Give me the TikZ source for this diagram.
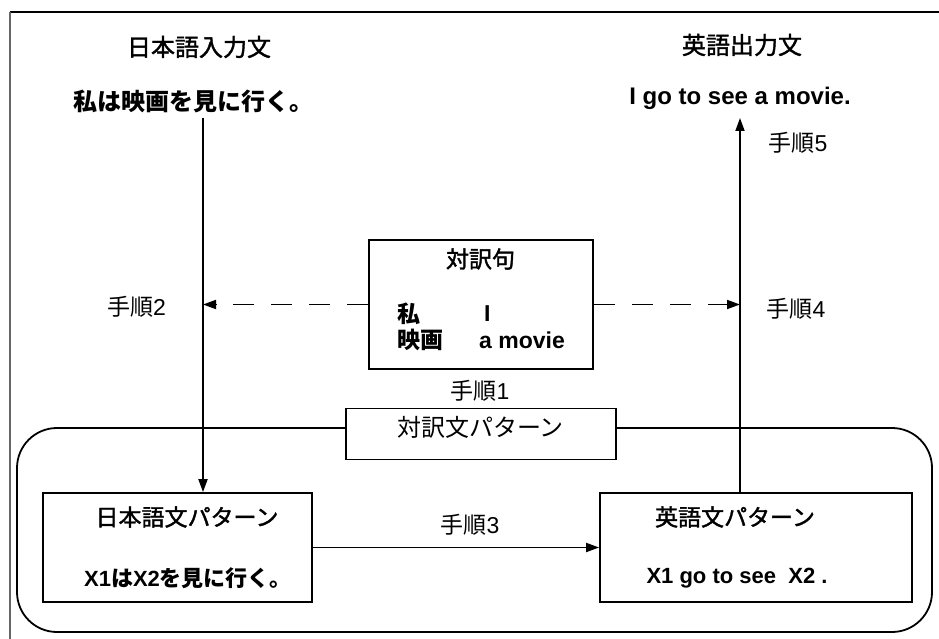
\documentclass[tikz,border=0pt]{standalone}
\usepackage{fontspec}
\setmainfont{Noto Sans CJK JP}
\newfontfamily\jpsemi[FakeBold=1.6]{Noto Sans CJK JP}
\newfontfamily\lat{Liberation Sans}
\usetikzlibrary{arrows.meta}
\tikzset{
  box/.style={draw, line width=1.8pt, fill=white, inner sep=0pt},
  conn/.style={line width=1.8pt, -{Triangle[length=13pt,width=9pt]}},
  dconn/.style={conn, dash pattern=on 21pt off 17pt},
  lbl/.style={font=\fontsize{23}{26}\selectfont, inner sep=0pt},
  head/.style={font=\fontsize{24}{27}\selectfont\jpsemi, inner sep=0pt},
  title/.style={font=\fontsize{23}{26}\selectfont\jpsemi, inner sep=0pt},
  bsent/.style={font=\fontsize{24}{27}\selectfont\bfseries, inner sep=0pt},
  psent/.style={font=\fontsize{22}{25}\selectfont\bfseries, inner sep=0pt},
  inner/.style={font=\fontsize{23}{26}\selectfont\bfseries, inner sep=0pt, anchor=west},
}
\begin{document}
\begin{tikzpicture}[x=1pt,y=-1pt]
\useasboundingbox (0,0) rectangle (939,639);
% outer frame (cropped)
\draw[line width=1.6pt] (10,12) -- (939,12);
\draw[line width=1.3pt, black!60] (10,639) -- (10,12);
% group rounded rectangle
\draw[line width=1.8pt, rounded corners=40pt] (17,428) rectangle (932,632);
% headings
\node[head] (jin) at (199,47) {日本語入力文};
\node[bsent] (jsent) at (193,101) {私は映画を見に行く。};
\node[head] (ein) at (742,45) {英語出力文};
\node[bsent] (esent) at (740,98) {\lat I go to see a movie.};
% phrase pair box
\node[box, minimum width=224pt, minimum height=129pt] (tp) at (481,304.5) {};
\node[title] (tpt) at (480.5,259) {対訳句};
\node[inner] (w1) at (397,314) {私};
\node[inner] (e1) at (484,314) {\lat I};
\node[inner] (w2) at (397,340) {映画};
\node[inner] (e2) at (479,340) {\lat a movie};
% pattern pair box
\node[box, minimum width=270pt, minimum height=51pt] (pp) at (481,434) {};
\node[font=\fontsize{24}{27}\selectfont, inner sep=0pt] (ppt) at (480.5,427) {対訳文パターン};
% Japanese pattern box
\node[box, minimum width=269pt, minimum height=109pt] (jp) at (177.5,547.5) {};
\node[title] (jpt) at (187,517) {日本語文パターン};
\node[psent] (jps) at (188,578) {{\lat X1}は{\lat X2}を見に行く。};
% English pattern box
\node[box, minimum width=312pt, minimum height=109pt] (en) at (756,547.5) {};
\node[title] (ent) at (735,517) {英語文パターン};
\node[psent, font=\fontsize{22}{25}\selectfont\bfseries\lat] (ens) at (737,578) {X1 go to see\ \ X2 .};
% connectors
\coordinate (la) at (203,118);
\coordinate (ra) at (740,118);
\draw[conn] (la) -- (la |- jp.north);
\draw[conn] (ra |- en.north) -- (ra);
\draw[dconn] (tp.west) -- (la |- tp.west);
\draw[dconn] (tp.east) -- (ra |- tp.east);
\draw[conn] (jp.east) -- (en.west);
% step labels
\node[lbl] (s1) at (480,391) {手順{\lat 1}};
\node[lbl] (s2) at (136.5,307) {手順{\lat 2}};
\node[lbl] (s3) at (470,525) {手順{\lat 3}};
\node[lbl] (s4) at (796,309) {手順{\lat 4}};
\node[lbl] (s5) at (798,143) {手順{\lat 5}};
\end{tikzpicture}
\end{document}
